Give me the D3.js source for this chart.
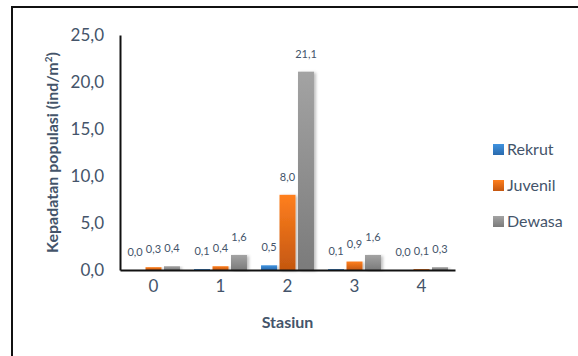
<!DOCTYPE html>
<html>
<head>
<meta charset="utf-8">
<script src="https://cdn.jsdelivr.net/npm/d3@7"></script>
<style>
  body { margin: 0; background: #fff; }
  svg { display: block; font-family: Lato, "Open Sans", sans-serif; }
</style>
</head>
<body>
<div id="chart"></div>
<script>
// chart data
const stations = ["0", "1", "2", "3", "4"];
const seriesNames = ["Rekrut", "Juvenil", "Dewasa"];
const rekrut = [0.0, 0.1, 0.5, 0.1, 0.0];
const juvenil = [0.3, 0.4, 8.0, 0.9, 0.1];
const dewasa = [0.4, 1.6, 21.1, 1.6, 0.3];
const yTicks = [0, 5, 10, 15, 20, 25];

const seriesValues = [rekrut, juvenil, dewasa];
const gradColors = [
  ["#3f93e0", "#2a6aad"],
  ["#ff7f1e", "#c45710"],
  ["#a3a3a3", "#7b7b7b"]
];
const textColor = "#44546a";

const W = 578, H = 356;
const plot = { left: 120, right: 455, top: 35, bottom: 270 };

const svg = d3.select("#chart").append("svg")
  .attr("width", W)
  .attr("height", H);

const defs = svg.append("defs");
gradColors.forEach((c, i) => {
  const g = defs.append("linearGradient")
    .attr("id", "grad" + i)
    .attr("x1", 0).attr("y1", 0).attr("x2", 0).attr("y2", 1);
  g.append("stop").attr("offset", "0%").attr("stop-color", c[0]);
  g.append("stop").attr("offset", "100%").attr("stop-color", c[1]);
});
const shadow = defs.append("filter").attr("id", "shadow")
  .attr("x", "-20%").attr("y", "-5%").attr("width", "160%").attr("height", "115%");
shadow.append("feDropShadow")
  .attr("dx", 2).attr("dy", 1).attr("stdDeviation", 1.5)
  .attr("flood-color", "#000").attr("flood-opacity", 0.25);

// outer frame (runs off the right and bottom edge)
svg.append("rect")
  .attr("x", 12).attr("y", 7)
  .attr("width", 620).attr("height", 400)
  .attr("fill", "none")
  .attr("stroke", "#111")
  .attr("stroke-width", 2);

const x0 = d3.scaleBand()
  .domain(stations)
  .range([plot.left, plot.right])
  .paddingInner(0.21)
  .paddingOuter(0.105);

const x1 = d3.scaleBand()
  .domain(seriesNames)
  .range([0, x0.bandwidth()])
  .paddingInner(0.135);

const y = d3.scaleLinear()
  .domain([0, 25])
  .range([plot.bottom, plot.top]);

const fmt = v => v.toFixed(1).replace(".", ",");

// bars
seriesNames.forEach((name, si) => {
  const g = svg.append("g");
  g.selectAll("rect")
    .data(stations.map((s, i) => ({ s, v: seriesValues[si][i] })))
    .join("rect")
    .attr("x", d => x0(d.s) + x1(name))
    .attr("y", d => y(d.v))
    .attr("width", x1.bandwidth())
    .attr("height", d => y(0) - y(d.v))
    .attr("fill", "url(#grad" + si + ")")
    .attr("filter", "url(#shadow)");

  g.selectAll("text")
    .data(stations.map((s, i) => ({ s, v: seriesValues[si][i] })))
    .join("text")
    .attr("x", d => x0(d.s) + x1(name) + x1.bandwidth() / 2)
    .attr("y", d => y(d.v) - 14)
    .attr("text-anchor", "middle")
    .attr("font-size", 11)
    .attr("fill", textColor)
    .text(d => fmt(d.v));
});

// y axis
const yAxis = svg.append("g")
  .attr("transform", `translate(${plot.left},0)`)
  .call(d3.axisLeft(y).tickValues(yTicks).tickFormat(fmt).tickSize(0).tickPadding(16));
yAxis.select(".domain").attr("stroke", "#111").attr("stroke-width", 2);
yAxis.selectAll("text")
  .attr("font-size", 17)
  .attr("font-family", "Lato, sans-serif")
  .attr("fill", textColor);

// x axis
const xAxis = svg.append("g")
  .attr("transform", `translate(0,${plot.bottom})`)
  .call(d3.axisBottom(x0).tickSize(0).tickPadding(10));
xAxis.select(".domain").attr("stroke", "#111").attr("stroke-width", 2);
xAxis.selectAll("text")
  .attr("font-size", 17)
  .attr("font-family", "Lato, sans-serif")
  .attr("fill", textColor);

// axis titles
svg.append("text")
  .attr("x", (plot.left + plot.right) / 2)
  .attr("y", 328)
  .attr("text-anchor", "middle")
  .attr("font-size", 16)
  .attr("font-weight", "bold")
  .attr("fill", textColor)
  .text("Stasiun");

svg.append("text")
  .attr("transform", `translate(58,${(plot.top + plot.bottom) / 2}) rotate(-90)`)
  .attr("text-anchor", "middle")
  .attr("font-size", 16)
  .attr("font-weight", "bold")
  .attr("fill", textColor)
  .html("Kepadatan populasi (ind/m<tspan dy='-6' font-size='10'>2</tspan><tspan dy='6'>)</tspan>");

// legend
const legend = svg.append("g").attr("transform", "translate(493,149)");
seriesNames.forEach((name, i) => {
  const row = legend.append("g").attr("transform", `translate(0,${i * 36})`);
  row.append("rect")
    .attr("x", 0).attr("y", -5)
    .attr("width", 11).attr("height", 11)
    .attr("fill", "url(#grad" + i + ")");
  row.append("text")
    .attr("x", 14).attr("y", 6)
    .attr("font-size", 16)
    .attr("fill", textColor)
    .text(name);
});
</script>
</body>
</html>
